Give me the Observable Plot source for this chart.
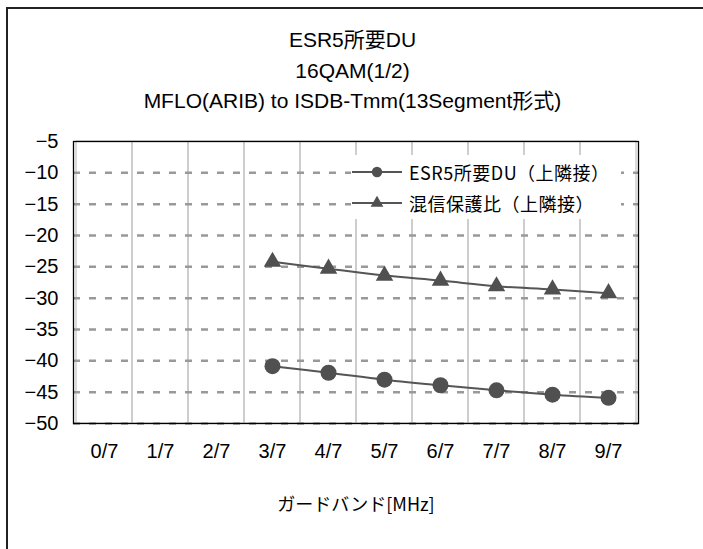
<!DOCTYPE html>
<html>
<head>
<meta charset="utf-8">
<script src="https://cdn.jsdelivr.net/npm/d3@7"></script>
<script src="https://cdn.jsdelivr.net/npm/@observablehq/plot@0.6"></script>
<style>
  html, body { margin: 0; padding: 0; background: #fff; overflow: hidden; }
  #wrap { position: relative; width: 703px; height: 549px; overflow: hidden;
          font-family: "Liberation Sans", "Noto Sans CJK JP", sans-serif; color: #000; }
  #outer { position: absolute; left: 6px; top: 7px; width: 900px; height: 900px;
           border-left: 2px solid #222; border-top: 2px solid #222; }
  #title { position: absolute; left: 0; width: 705px; top: 25px; text-align: center;
           font-size: 21px; line-height: 30.5px; }
  #chart { position: absolute; left: 0; top: 0; }
  #legend { position: absolute; left: 351px; top: 155px; width: 270px; height: 64px;
            background: #fff; font-size: 18px; }
  .row { position: absolute; left: 0; height: 30px; display: flex; align-items: center; }
  .row svg { display: block; }
  .row span { margin-left: 6px; font-family: "Noto Sans CJK JP", sans-serif; letter-spacing: 0.5px; }
</style>
</head>
<body>
<div id="wrap">
  <div id="outer"></div>
  <div id="chart"></div>
  <div id="title"></div>
  <div id="legend"></div>
</div>
<script>
// ---- data ----
const titleLines = ["ESR5所要DU", "16QAM(1/2)", "MFLO(ARIB) to ISDB-Tmm(13Segment形式)"];
const xLabel = "ガードバンド[MHz]";
const categories = ["0/7", "1/7", "2/7", "3/7", "4/7", "5/7", "6/7", "7/7", "8/7", "9/7"];
const esrValues  = [null, null, null, -40.85, -41.9, -43.0, -43.9, -44.7, -45.4, -45.9];
const protValues = [null, null, null, -24.2, -25.3, -26.4, -27.2, -28.1, -28.6, -29.2];
const seriesNames = ["ESR5所要DU（上隣接）", "混信保護比（上隣接）"];
const yTicks = [-5, -10, -15, -20, -25, -30, -35, -40, -45, -50];

const esrData = categories.map((c, i) => ({x: c, y: esrValues[i]})).filter(d => d.y != null);
const protData = categories.map((c, i) => ({x: c, y: protValues[i]})).filter(d => d.y != null);

const lineColor = "#555555";
const markColor = "#505050";

const chart = Plot.plot({
  width: 703,
  height: 549,
  marginLeft: 73,
  marginRight: 65,
  marginTop: 141,
  marginBottom: 126,
  style: {fontFamily: "'Liberation Sans', 'Noto Sans CJK JP', sans-serif", fontSize: "20px", color: "#000", background: "transparent", overflow: "visible"},
  x: {type: "band", domain: categories, padding: 0},
  y: {domain: [-50, -5]},
  marks: [
    Plot.cell(categories, {x: d => d, stroke: "#c4c4c4", strokeWidth: 1.2, fill: "none"}),
    Plot.ruleY(yTicks.filter(v => v !== -5), {stroke: "#999", strokeWidth: 2.5, strokeDasharray: "7,9"}),
    Plot.frame({stroke: "#000", strokeWidth: 1.3}),
    Plot.axisY({ticks: yTicks, tickSize: 0, tickPadding: 15, label: null, fontSize: 20, tickFormat: d => "−" + Math.abs(d)}),
    Plot.axisX({tickSize: 0, tickPadding: 20, label: null, fontSize: 20}),
    Plot.text([xLabel], {frameAnchor: "bottom", dy: 87, text: d => d, fontFamily: "'Noto Sans CJK JP', sans-serif", fontSize: 18}),
    Plot.line(protData, {x: "x", y: "y", stroke: lineColor, strokeWidth: 2, curve: "catmull-rom"}),
    Plot.dot(protData, {x: "x", y: "y", symbol: "triangle", r: 6.5, fill: markColor, stroke: "none"}),
    Plot.line(esrData, {x: "x", y: "y", stroke: lineColor, strokeWidth: 2, curve: "catmull-rom"}),
    Plot.dot(esrData, {x: "x", y: "y", symbol: "circle", r: 8, fill: markColor, stroke: "none"})
  ]
});
// enlarge tick labels
d3.select(chart).selectAll("text").each(function() {
  const t = d3.select(this);
  if (this.textContent === xLabel) t.style("font-size", "18px");
  else t.style("font-size", "20px");
});
document.getElementById("chart").appendChild(chart);

// title
const title = document.getElementById("title");
titleLines.forEach(t => { const d = document.createElement("div"); d.textContent = t; title.appendChild(d); });

// legend
const legend = document.getElementById("legend");
const symbols = ["circle", "triangle"];
seriesNames.forEach((name, i) => {
  const row = document.createElement("div");
  row.className = "row";
  row.style.top = (2 + i * 31) + "px";
  const ns = "http://www.w3.org/2000/svg";
  const svg = document.createElementNS(ns, "svg");
  svg.setAttribute("width", 52); svg.setAttribute("height", 20);
  const ln = document.createElementNS(ns, "line");
  ln.setAttribute("x1", 1); ln.setAttribute("x2", 51); ln.setAttribute("y1", 10); ln.setAttribute("y2", 10);
  ln.setAttribute("stroke", lineColor); ln.setAttribute("stroke-width", 2);
  svg.appendChild(ln);
  const p = document.createElementNS(ns, "path");
  const sym = symbols[i] === "circle" ? d3.symbolCircle : d3.symbolTriangle;
  p.setAttribute("d", d3.symbol(sym, symbols[i] === "circle" ? 85 : 70)());
  p.setAttribute("transform", "translate(26,10)");
  p.setAttribute("fill", markColor);
  svg.appendChild(p);
  row.appendChild(svg);
  const s = document.createElement("span");
  s.textContent = name;
  row.appendChild(s);
  legend.appendChild(row);
});
</script>
</body>
</html>
